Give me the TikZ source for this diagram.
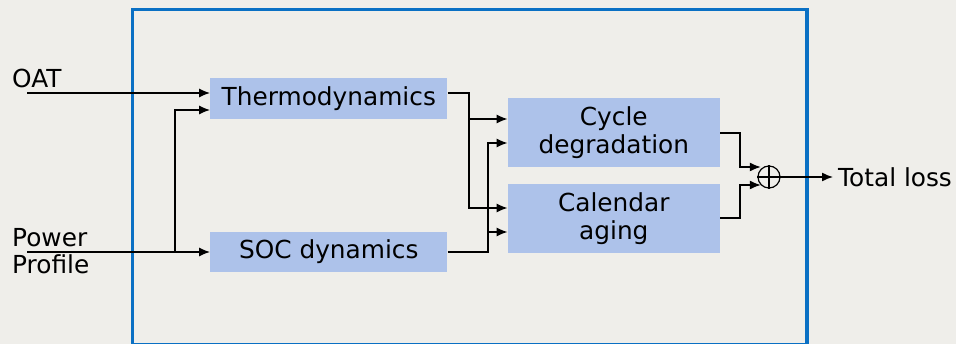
\documentclass[tikz,border=0pt]{standalone}
\usepackage{fontspec}
\setmainfont{DejaVu Sans}
\usetikzlibrary{arrows.meta,calc}
\definecolor{bgc}{HTML}{EFEEEA}
\definecolor{boxc}{HTML}{ADC2EA}
\definecolor{framec}{HTML}{0A70C4}
\tikzset{
  blk/.style={fill=boxc, draw=none, align=center, inner sep=0pt, font=\fontsize{24.8}{28}\selectfont},
  lbl/.style={inner sep=0pt, font=\fontsize{24.8}{28}\selectfont},
  arr/.style={line width=1.4pt, -{Latex[length=11pt,width=9pt]}},
  ln/.style={line width=1.4pt},
  sumc/.style={circle, draw, line width=1.2pt, minimum size=22pt, inner sep=0pt},
}
\begin{document}
\begin{tikzpicture}[x=1pt,y=-1pt]
\fill[bgc] (0,0) rectangle (956,344);
\useasboundingbox (0,0) rectangle (956,344);
\draw[framec, line width=3.2pt] (132.5,9.5) rectangle (807,344.5);

\node[blk, minimum width=237pt, minimum height=41pt] (thermo) at (328.8,98.8) {Thermodynamics};
\node[blk, minimum width=237pt, minimum height=40pt] (soc) at (328.8,252) {SOC dynamics};
\node[blk, minimum width=212pt, minimum height=69pt] (cycle) at (613.8,132.8) {Cycle\\degradation};
\node[blk, minimum width=212pt, minimum height=69pt] (cal) at (613.8,218.3) {Calendar\\aging};
\node[sumc] (sum) at (769,177) {};
\draw[line width=1.2pt] (sum.north) -- (sum.south) (sum.west) -- (sum.east);

\node[lbl, anchor=base west] (oat) at (12,88) {OAT};
\node[lbl, anchor=base west] (pw1) at (12,247) {Power};
\node[lbl, anchor=base west] (pw2) at (12,274) {Profile};
\node[lbl, anchor=west] (total) at (838,177) {Total loss};

\coordinate (oats) at (27,93);
\coordinate (pws) at (27,252);
\coordinate (j1) at (175,252);
\coordinate (j2) at (469,119);
\coordinate (j3) at (488,232);

\draw[arr] (oats) -- (thermo.west |- oats);
\draw[arr] (pws) -- (soc.west);
\draw[arr] (j1) |- (thermo.west |- 0,110);

\draw[arr] (thermo.east |- 0,93) -| (469,208) -- (cal.west |- 0,208);
\draw[arr] (j2) -- (cycle.west |- j2);
\draw[arr] (soc.east) -| (488,143) -- (cycle.west |- 0,143);
\draw[arr] (j3) -- (cal.west |- j3);

\draw[arr] (cycle.east |- 0,133) -| (740,167) -- (sum.north west |- 0,167);
\draw[arr] (cal.east |- 0,218) -| (740,185) -- (sum.south west |- 0,185);
\draw[arr] (sum.east) -- ($(total.west)+(-5,0)$);
\end{tikzpicture}
\end{document}
